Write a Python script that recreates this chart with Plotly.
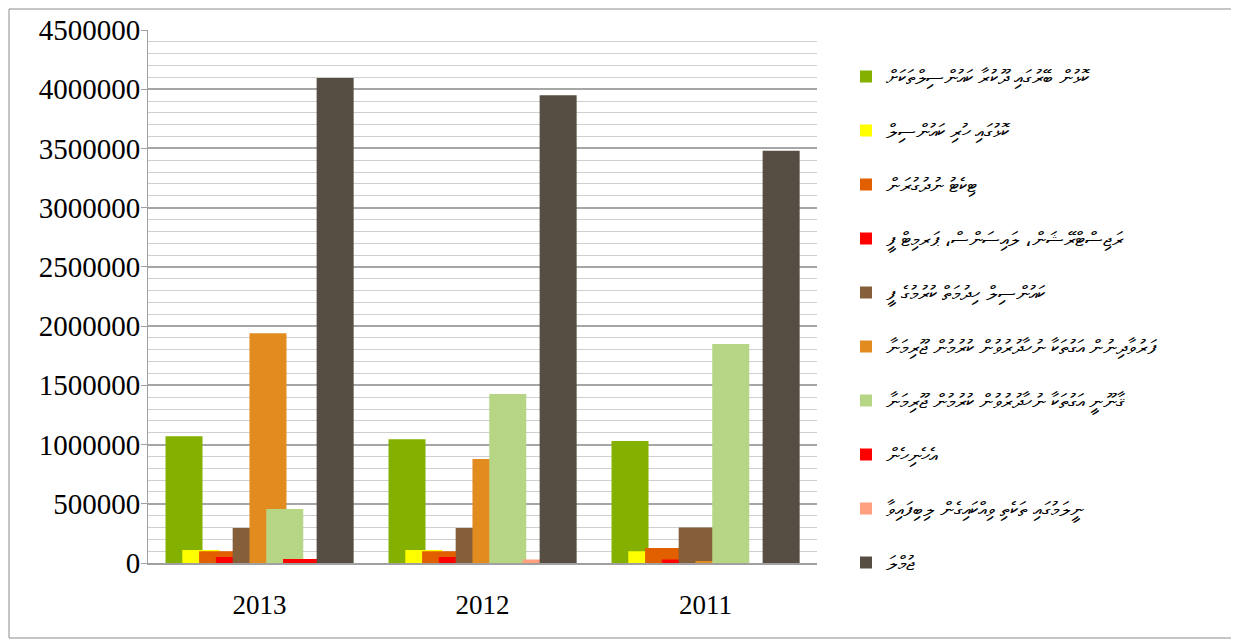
import plotly.graph_objects as go

categories = ["2013", "2012", "2011"]

series_names = [
    "ކޮޅުން ބޭރުގައި ދޫކުރާ ކައުންސިލްތަކަށް",
    "ކޮޅުގައި ހުރި ކައުންސިލް",
    "ޓިކެޓު ނުދުގުރަން",
    "ރަޖިސްޓްރޭޝަން، ލައިސަންސް، ޕަރމިޓް ފީ",
    "ކައުންސިލް ހިދުމަތް ކުރުމުގެ ފީ",
    "ފަރުވާދިނުން އަގުތަކާ ނުހާދުރުވުން ކުރުމުން ޖޫރިމަނާ",
    "ޤާނޫނީ އަގުތަކާ ނުހާދުރުވުން ކުރުމުން ޖޫރިމަނާ",
    "އެހެނިހެން",
    "ނީލަމުގައި ތަކެތި ވިއްކައިގެން ލިބިފައިވާ",
    "ޖުމްލަ",
]

s1 = [1070000, 1045000, 1030000]
s2 = [110000, 110000, 100000]
s3 = [100000, 100000, 127000]
s4 = [50000, 50000, 30000]
s5 = [295000, 295000, 300000]
s6 = [1940000, 878000, 15000]
s7 = [456000, 1427000, 1850000]
s8 = [34000, 0, 0]
s9 = [0, 30000, 0]
s10 = [4095000, 3950000, 3480000]
series_values = [s1, s2, s3, s4, s5, s6, s7, s8, s9, s10]

colors = ["#84B000", "#FFFF00", "#E25F00", "#FF0000", "#855E3A",
          "#E28C20", "#B6D686", "#FF0000", "#FFA080", "#564E42"]

y_ticks = [0, 500000, 1000000, 1500000, 2000000, 2500000, 3000000, 3500000, 4000000, 4500000]

# page offset (default body margin) and geometry in target-page pixels
OFF = 8
W, H = 1239 - OFF, 641 - OFF
L, R, T, B = 148 - OFF, 817 - OFF, 30 - OFF, 563 - OFF
pw, ph = R - L, B - T

bar_w = 0.166
step = 0.0753
first_off = -0.4215

fig = go.Figure()
for i, (name, vals, col) in enumerate(zip(series_names, series_values, colors)):
    fig.add_trace(go.Bar(
        x=categories, y=vals, name=name,
        marker=dict(color=col, line=dict(width=0)),
        width=bar_w, offset=first_off + i * step,
        legendgroup=f"g{i}",
    ))

def px2x(px):
    return (px - OFF - L) / pw

def py2y(py):
    return (B - (py - OFF)) / ph

fig.add_shape(type="rect", xref="paper", yref="paper",
              x0=px2x(9), x1=px2x(1236), y0=py2y(638), y1=py2y(9),
              line=dict(color="#8c8c8c", width=1), fillcolor="rgba(0,0,0,0)", layer="below")

fig.update_layout(
    width=W, height=H,
    barmode="overlay",
    margin=dict(l=L, r=W - R, t=T, b=H - B, autoexpand=False),
    paper_bgcolor="white", plot_bgcolor="white",
    font=dict(family="Liberation Serif, Times New Roman, serif", size=24, color="black"),
    showlegend=True,
    legend=dict(
        x=px2x(846), xanchor="left", y=py2y(57), yanchor="top",
        font=dict(family="Noto Sans, DejaVu Sans, sans-serif", size=20, color="black"),
        tracegroupgap=25, bgcolor="rgba(0,0,0,0)",
        itemwidth=30,
    ),
    xaxis=dict(
        type="category", showgrid=False, showline=True, linecolor="#a0a0a0", linewidth=2,
        ticks="", tickfont=dict(size=27), range=[-0.5, 2.5], ticklabelstandoff=17,
        automargin=False,
    ),
    yaxis=dict(
        range=[0, 4500000], tickvals=y_ticks, ticktext=[str(v) for v in y_ticks],
        showgrid=True, gridcolor="#a6a6a6", gridwidth=1.5,
        minor=dict(dtick=100000, showgrid=True, gridcolor="#cfcfcf", gridwidth=1),
        showline=True, linecolor="#a0a0a0", linewidth=1,
        ticks="outside", ticklen=6, tickcolor="#a0a0a0",
        tickfont=dict(size=29), zeroline=False, automargin=False,
        ticklabelstandoff=-5,
    ),
)

fig.write_html("out.html")
